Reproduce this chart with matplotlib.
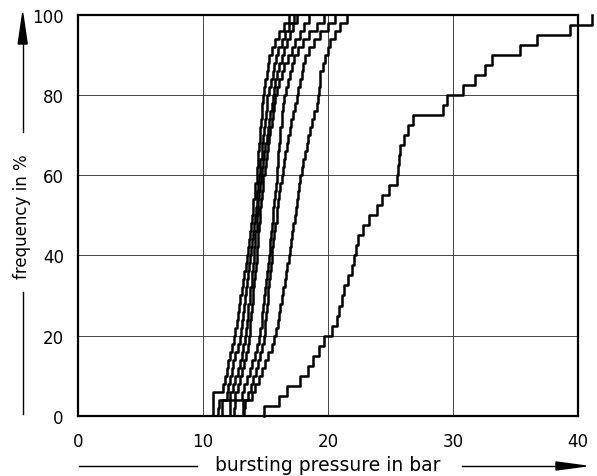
import matplotlib
matplotlib.use("Agg")
import matplotlib.pyplot as plt
import numpy as np
from matplotlib.lines import Line2D
from matplotlib.patches import Polygon

# sorted bursting pressures (bar) per test series
series_a = [10.8, 10.8, 10.85, 11.6, 11.75, 11.9, 12.05, 12.2, 12.35, 12.5,
            12.6, 12.7, 12.8, 12.9, 13.0, 13.1, 13.2, 13.3, 13.45, 13.55,
            13.6, 13.7, 13.75, 13.85, 13.9, 14.0, 14.05, 14.15, 14.2, 14.3,
            14.35, 14.4, 14.45, 14.5, 14.55, 14.6, 14.65, 14.7, 14.75, 14.8,
            14.9, 15.0, 15.1, 15.2, 15.3, 15.5, 15.8, 16.1, 16.5, 16.9]
series_b = [11.25, 11.3, 11.9, 12.0, 12.15, 12.3, 12.45, 12.6, 12.8, 12.95,
            13.05, 13.15, 13.25, 13.3, 13.4, 13.45, 13.55, 13.6, 13.7, 13.8,
            13.85, 13.95, 14.0, 14.1, 14.15, 14.25, 14.3, 14.35, 14.45, 14.5,
            14.55, 14.6, 14.7, 14.75, 14.85, 14.9, 14.95, 15.05, 15.1, 15.15,
            15.3, 15.45, 15.6, 15.7, 15.85, 16.0, 16.3, 16.6, 16.9, 17.3]
series_c = [11.5, 11.55, 12.2, 12.4, 12.6, 12.8, 12.95, 13.1, 13.25, 13.4,
            13.45, 13.5, 13.6, 13.65, 13.75, 13.8, 13.9, 13.95, 14.0, 14.07,
            14.1, 14.15, 14.2, 14.3, 14.35, 14.4, 14.45, 14.5, 14.6, 14.65,
            14.75, 14.85, 14.9, 15.0, 15.1, 15.2, 15.3, 15.4, 15.5, 15.6,
            15.7, 15.8, 15.95, 16.1, 16.3, 16.5, 16.7, 16.95, 17.2, 17.5]
series_d = [12.15, 12.2, 12.6, 12.8, 13.0, 13.15, 13.3, 13.45, 13.6, 13.7,
            13.75, 13.8, 13.85, 13.9, 14.0, 14.05, 14.1, 14.15, 14.25, 14.3,
            14.35, 14.4, 14.45, 14.5, 14.55, 14.6, 14.65, 14.7, 14.8, 14.85,
            14.95, 15.05, 15.15, 15.2, 15.3, 15.4, 15.5, 15.6, 15.7, 15.8,
            15.95, 16.1, 16.3, 16.5, 16.8, 17.1, 17.4, 17.8, 18.1, 18.5]
series_e = [12.5, 12.55, 13.1, 13.3, 13.55, 13.75, 13.95, 14.15, 14.35, 14.5,
            14.6, 14.7, 14.75, 14.85, 14.9, 15.0, 15.05, 15.15, 15.2, 15.27,
            15.35, 15.4, 15.45, 15.55, 15.6, 15.65, 15.7, 15.8, 15.85, 15.9,
            15.95, 16.0, 16.05, 16.1, 16.15, 16.2, 16.3, 16.35, 16.45, 16.5,
            16.65, 16.8, 16.95, 17.1, 17.3, 17.6, 18.0, 18.5, 19.1, 19.7]
series_f = [13.2, 13.25, 13.6, 13.85, 14.05, 14.25, 14.45, 14.6, 14.75, 14.9,
            14.95, 15.0, 15.05, 15.15, 15.2, 15.25, 15.3, 15.35, 15.45, 15.5,
            15.55, 15.65, 15.7, 15.8, 15.9, 15.95, 16.05, 16.1, 16.2, 16.3,
            16.4, 16.5, 16.6, 16.7, 16.8, 16.95, 17.05, 17.2, 17.35, 17.5,
            17.6, 17.75, 17.9, 18.05, 18.2, 18.5, 18.9, 19.4, 20.0, 20.6]
series_g = [13.3, 13.35, 13.9, 14.2, 14.5, 14.75, 15.0, 15.25, 15.5, 15.7,
            15.85, 16.0, 16.1, 16.2, 16.35, 16.45, 16.55, 16.65, 16.75, 16.86,
            16.95, 17.05, 17.15, 17.25, 17.35, 17.45, 17.55, 17.6, 17.7, 17.8,
            17.9, 18.0, 18.15, 18.3, 18.45, 18.6, 18.75, 18.9, 19.1, 19.25,
            19.3, 19.35, 19.4, 19.6, 19.8, 20.0, 20.2, 20.6, 21.0, 21.5]
series_h = [14.9, 16.1, 16.7, 17.8, 18.4, 18.8, 19.3, 19.7, 20.3, 20.7,
            20.9, 21.1, 21.3, 21.6, 21.9, 22.1, 22.25, 22.4, 22.8, 23.3,
            23.9, 24.3, 24.9, 25.5, 25.6, 25.7, 25.8, 26.1, 26.4, 26.8,
            29.2, 29.5, 30.8, 31.8, 32.6, 33.1, 35.4, 36.7, 39.4, 41.1]

x_ticks = [0, 10, 20, 30, 40]
y_ticks = [0, 20, 40, 60, 80, 100]

W, H = 597, 477
fig = plt.figure(figsize=(W / 100, H / 100), dpi=100)
ax = fig.add_axes([77.7 / W, 1 - 416.7 / H, (578 - 77.7) / W, (416.7 - 16) / H])


def staircase(values):
    # cumulative frequency in %, drawn as a step trace starting on the axis
    v = np.asarray(values)
    n = len(v)
    xs = np.repeat(v, 2)
    ys = np.empty(2 * n)
    ys[0::2] = np.arange(n) / n * 100
    ys[1::2] = np.arange(1, n + 1) / n * 100
    return xs, ys


for s in [series_a, series_b, series_c, series_d, series_e, series_f, series_g]:
    xs, ys = staircase(s)
    ax.plot(xs, ys, color="black", lw=1.8, solid_joinstyle="round", zorder=3)
xs, ys = staircase(series_h)
ax.plot(xs, ys, color="black", lw=1.8, solid_joinstyle="round", zorder=3, clip_on=False)

ax.set_xlim(0, 40)
ax.set_ylim(0, 100)
ax.set_xticks(x_ticks)
ax.set_yticks(y_ticks)
ax.tick_params(length=0, labelsize=12)
ax.tick_params(axis="x", pad=12)
ax.tick_params(axis="y", pad=10)
ax.grid(True, color="#444444", lw=0.7)
for sp in ax.spines.values():
    sp.set_linewidth(1.6)

tf = fig.transFigure


def fx(px):
    return px / W


def fy(py):
    return 1 - py / H


# x axis caption with arrow
fig.text(fx(327.5), fy(466), "bursting pressure in bar", ha="center", va="center", fontsize=13.5)
fig.add_artist(Line2D([fx(79), fx(197)], [fy(467), fy(467)], color="black", lw=1.0, transform=tf))
fig.add_artist(Line2D([fx(462), fx(560)], [fy(467), fy(467)], color="black", lw=1.0, transform=tf))
fig.add_artist(Polygon([[fx(556), fy(463)], [fx(586), fy(467)], [fx(556), fy(471)]],
                       closed=True, color="black", transform=tf))

# y axis caption with arrow
fig.text(fx(22), fy(217), "frequency in %", ha="center", va="center", rotation=90, fontsize=12)
fig.add_artist(Line2D([fx(22.7), fx(22.7)], [fy(293), fy(415)], color="black", lw=1.0, transform=tf))
fig.add_artist(Line2D([fx(22.7), fx(22.7)], [fy(133), fy(42)], color="black", lw=1.0, transform=tf))
fig.add_artist(Polygon([[fx(18.2), fy(45)], [fx(22.7), fy(14)], [fx(27.2), fy(45)]],
                       closed=True, color="black", transform=tf))

fig.savefig("out.png", dpi=100)
